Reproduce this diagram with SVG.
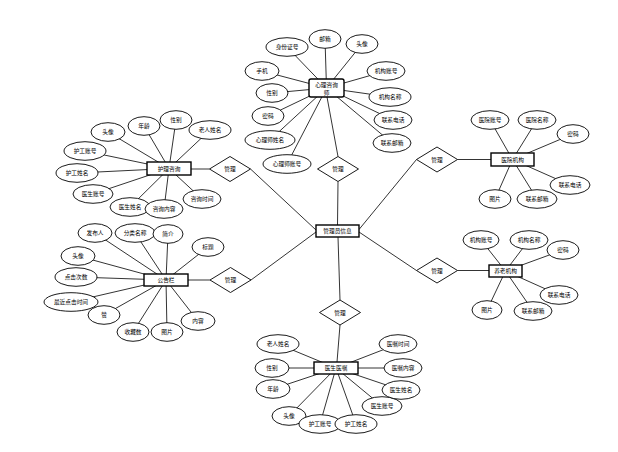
<svg xmlns="http://www.w3.org/2000/svg" width="618" height="452" viewBox="0 0 618 452">
<style>
text{font-family:"Liberation Sans","Noto Sans CJK SC",sans-serif;font-size:5.7px;text-anchor:middle;dominant-baseline:central;fill:#000}
.a ellipse{fill:#fff;stroke:#000;stroke-width:0.9}
.e rect{fill:#fff;stroke:#000;stroke-width:1.4}
.r polygon{fill:#fff;stroke:#000;stroke-width:0.9}
#connectors line{stroke:#000;stroke-width:0.8}
</style>
<rect width="618" height="452" fill="#fff"/>
<g id="connectors">
<line x1="316" y1="230" x2="250.5" y2="169"/>
<line x1="316" y1="232" x2="251" y2="280"/>
<line x1="337.5" y1="225" x2="338" y2="181.5"/>
<line x1="359" y1="229.5" x2="416.5" y2="159.5"/>
<line x1="359" y1="232" x2="416.5" y2="270.5"/>
<line x1="338" y1="237" x2="340" y2="300"/>
<line x1="191" y1="169" x2="209.5" y2="169"/>
<line x1="188" y1="280" x2="210" y2="280"/>
<line x1="327" y1="97" x2="338" y2="156.5"/>
<line x1="457.5" y1="159.5" x2="491" y2="159.5"/>
<line x1="457.5" y1="270.5" x2="489" y2="270.5"/>
<line x1="340" y1="325" x2="337" y2="362"/>
<!-- E3 -->
<line x1="326.5" y1="88" x2="287" y2="47"/><line x1="326.5" y1="88" x2="325" y2="39"/><line x1="326.5" y1="88" x2="362" y2="44"/><line x1="326.5" y1="88" x2="262" y2="71"/><line x1="326.5" y1="88" x2="386" y2="71"/><line x1="326.5" y1="88" x2="272" y2="93"/><line x1="326.5" y1="88" x2="390" y2="97"/><line x1="326.5" y1="88" x2="268" y2="116"/><line x1="326.5" y1="88" x2="393" y2="120"/><line x1="326.5" y1="88" x2="270" y2="140"/><line x1="326.5" y1="88" x2="392" y2="143"/><line x1="326.5" y1="88" x2="287" y2="164"/>
<!-- E1 -->
<line x1="169" y1="168.5" x2="108" y2="132"/><line x1="169" y1="168.5" x2="144" y2="126"/><line x1="169" y1="168.5" x2="176" y2="120"/><line x1="169" y1="168.5" x2="210" y2="130"/><line x1="169" y1="168.5" x2="85" y2="151"/><line x1="169" y1="168.5" x2="77" y2="173"/><line x1="169" y1="168.5" x2="93" y2="194"/><line x1="169" y1="168.5" x2="130" y2="207"/><line x1="169" y1="168.5" x2="164" y2="209"/><line x1="169" y1="168.5" x2="202" y2="199"/>
<!-- E2 -->
<line x1="166" y1="280" x2="95" y2="233"/><line x1="166" y1="280" x2="135" y2="233"/><line x1="166" y1="280" x2="168" y2="234"/><line x1="166" y1="280" x2="208" y2="247"/><line x1="166" y1="280" x2="78" y2="256"/><line x1="166" y1="280" x2="76" y2="277"/><line x1="166" y1="280" x2="71" y2="302"/><line x1="166" y1="280" x2="104" y2="315"/><line x1="166" y1="280" x2="133" y2="332"/><line x1="166" y1="280" x2="167" y2="332"/><line x1="166" y1="280" x2="198" y2="321"/>
<!-- E4 -->
<line x1="512.5" y1="159.5" x2="490" y2="120"/><line x1="512.5" y1="159.5" x2="537" y2="120"/><line x1="512.5" y1="159.5" x2="573" y2="134"/><line x1="512.5" y1="159.5" x2="570" y2="185"/><line x1="512.5" y1="159.5" x2="537" y2="199"/><line x1="512.5" y1="159.5" x2="495" y2="199"/>
<!-- E5 -->
<line x1="505.5" y1="271" x2="481" y2="240"/><line x1="505.5" y1="271" x2="529" y2="240"/><line x1="505.5" y1="271" x2="563" y2="250"/><line x1="505.5" y1="271" x2="559" y2="295"/><line x1="505.5" y1="271" x2="533" y2="311"/><line x1="505.5" y1="271" x2="487" y2="310"/>
<!-- E6 -->
<line x1="336" y1="368" x2="278" y2="344"/><line x1="336" y1="368" x2="272" y2="368"/><line x1="336" y1="368" x2="273" y2="389"/><line x1="336" y1="368" x2="289" y2="416"/><line x1="336" y1="368" x2="320" y2="424"/><line x1="336" y1="368" x2="356" y2="424"/><line x1="336" y1="368" x2="382" y2="406"/><line x1="336" y1="368" x2="401" y2="390"/><line x1="336" y1="368" x2="403" y2="368"/><line x1="336" y1="368" x2="398" y2="344"/>
</g>
<g id="d1" class="r"><polygon points="209.5,169 230,156.5 250.5,169 230,181.5"/><text x="230" y="169">管理</text></g>
<g id="d2" class="r"><polygon points="210,280 230.5,267.5 251,280 230.5,292.5"/><text x="230.5" y="280">管理</text></g>
<g id="d3" class="r"><polygon points="317.5,169 338,156.5 358.5,169 338,181.5"/><text x="338" y="169">管理</text></g>
<g id="d4" class="r"><polygon points="416.5,159.5 437,147 457.5,159.5 437,172"/><text x="437" y="159.5">管理</text></g>
<g id="d5" class="r"><polygon points="416.5,270.5 437,258 457.5,270.5 437,283"/><text x="437" y="270.5">管理</text></g>
<g id="d6" class="r"><polygon points="319.5,312.5 340,300 360.5,312.5 340,325"/><text x="340" y="312.5">管理</text></g>
<g id="admin" class="e"><rect x="316" y="225" width="43" height="12"/><text x="337.5" y="231">管理员信息</text></g>
<g id="nurse" class="e"><rect x="147" y="162" width="44" height="13"/><text x="169" y="168.5">护理咨询</text></g>
<g id="notice" class="e"><rect x="144" y="274" width="44" height="12"/><text x="166" y="280">公告栏</text></g>
<g id="psych" class="e"><rect x="309" y="79" width="35" height="18" rx="2"/><text x="326.5" y="84.5">心理咨询</text><text x="326.5" y="92.5">师</text></g>
<g id="hospital" class="e"><rect x="491" y="153" width="43" height="13"/><text x="512.5" y="159.5">医院机构</text></g>
<g id="elder" class="e"><rect x="489" y="265" width="33" height="12"/><text x="505.5" y="271">养老机构</text></g>
<g id="advice" class="e"><rect x="314" y="362" width="44" height="12"/><text x="336" y="368">医生医嘱</text></g>
<g id="psych-attrs" class="a">
<g id="p1"><ellipse cx="287" cy="47" rx="21" ry="9.3"/><text x="287" y="47">身份证号</text></g>
<g id="p2"><ellipse cx="325" cy="39" rx="16" ry="9.3"/><text x="325" y="39">邮箱</text></g>
<g id="p3"><ellipse cx="362" cy="44" rx="16" ry="9.3"/><text x="362" y="44">头像</text></g>
<g id="p4"><ellipse cx="262" cy="71" rx="17" ry="9.3"/><text x="262" y="71">手机</text></g>
<g id="p5"><ellipse cx="386" cy="71" rx="19" ry="9.3"/><text x="386" y="71">机构账号</text></g>
<g id="p6"><ellipse cx="272" cy="93" rx="16" ry="9.3"/><text x="272" y="93">性别</text></g>
<g id="p7"><ellipse cx="390" cy="97" rx="21" ry="9.3"/><text x="390" y="97">机构名称</text></g>
<g id="p8"><ellipse cx="268" cy="116" rx="16" ry="9.3"/><text x="268" y="116">密码</text></g>
<g id="p9"><ellipse cx="393" cy="120" rx="19" ry="9.3"/><text x="393" y="120">联系电话</text></g>
<g id="p10"><ellipse cx="270" cy="140" rx="25" ry="9.3"/><text x="270" y="140">心理师姓名</text></g>
<g id="p11"><ellipse cx="392" cy="143" rx="19" ry="9.3"/><text x="392" y="143">联系邮箱</text></g>
<g id="p12"><ellipse cx="287" cy="164" rx="24" ry="9.3"/><text x="287" y="164">心理师账号</text></g>
</g>
<g id="nurse-attrs" class="a">
<g id="n1"><ellipse cx="108" cy="132" rx="17" ry="9.3"/><text x="108" y="132">头像</text></g>
<g id="n2"><ellipse cx="144" cy="126" rx="16" ry="9.3"/><text x="144" y="126">年龄</text></g>
<g id="n3"><ellipse cx="176" cy="120" rx="16" ry="9.3"/><text x="176" y="120">性别</text></g>
<g id="n4"><ellipse cx="210" cy="130" rx="21" ry="9.3"/><text x="210" y="130">老人姓名</text></g>
<g id="n5"><ellipse cx="85" cy="151" rx="21" ry="9.3"/><text x="85" y="151">护工账号</text></g>
<g id="n6"><ellipse cx="77" cy="173" rx="21" ry="9.3"/><text x="77" y="173">护工姓名</text></g>
<g id="n7"><ellipse cx="93" cy="194" rx="20" ry="9.3"/><text x="93" y="194">医生账号</text></g>
<g id="n8"><ellipse cx="130" cy="207" rx="20" ry="9.3"/><text x="130" y="207">医生姓名</text></g>
<g id="n9"><ellipse cx="164" cy="209" rx="19" ry="9.3"/><text x="164" y="209">咨询内容</text></g>
<g id="n10"><ellipse cx="202" cy="199" rx="19" ry="9.3"/><text x="202" y="199">咨询时间</text></g>
</g>
<g id="notice-attrs" class="a">
<g id="t1"><ellipse cx="95" cy="233" rx="17" ry="9.3"/><text x="95" y="233">发布人</text></g>
<g id="t2"><ellipse cx="135" cy="233" rx="20" ry="9.3"/><text x="135" y="233">分类名称</text></g>
<g id="t3"><ellipse cx="168" cy="234" rx="15" ry="9.3"/><text x="168" y="234">简介</text></g>
<g id="t4"><ellipse cx="208" cy="247" rx="16" ry="9.3"/><text x="208" y="247">标题</text></g>
<g id="t5"><ellipse cx="78" cy="256" rx="17" ry="9.3"/><text x="78" y="256">头像</text></g>
<g id="t6"><ellipse cx="76" cy="277" rx="21" ry="9.3"/><text x="76" y="277">点击次数</text></g>
<g id="t7"><ellipse cx="71" cy="302" rx="27" ry="9.3"/><text x="71" y="302">最近点击时间</text></g>
<g id="t8"><ellipse cx="104" cy="315" rx="16" ry="9.3"/><text x="104" y="315">赞</text></g>
<g id="t9"><ellipse cx="133" cy="332" rx="16" ry="9.3"/><text x="133" y="332">收藏数</text></g>
<g id="t10"><ellipse cx="167" cy="332" rx="16" ry="9.3"/><text x="167" y="332">图片</text></g>
<g id="t11"><ellipse cx="198" cy="321" rx="17" ry="9.3"/><text x="198" y="321">内容</text></g>
</g>
<g id="hospital-attrs" class="a">
<g id="h1"><ellipse cx="490" cy="120" rx="19" ry="9.3"/><text x="490" y="120">医院账号</text></g>
<g id="h2"><ellipse cx="537" cy="120" rx="19" ry="9.3"/><text x="537" y="120">医院名称</text></g>
<g id="h3"><ellipse cx="573" cy="134" rx="16" ry="9.3"/><text x="573" y="134">密码</text></g>
<g id="h4"><ellipse cx="570" cy="185" rx="20" ry="9.3"/><text x="570" y="185">联系电话</text></g>
<g id="h5"><ellipse cx="537" cy="199" rx="20" ry="9.3"/><text x="537" y="199">联系邮箱</text></g>
<g id="h6"><ellipse cx="495" cy="199" rx="16" ry="9.3"/><text x="495" y="199">图片</text></g>
</g>
<g id="elder-attrs" class="a">
<g id="o1"><ellipse cx="481" cy="240" rx="18" ry="9.3"/><text x="481" y="240">机构账号</text></g>
<g id="o2"><ellipse cx="529" cy="240" rx="19" ry="9.3"/><text x="529" y="240">机构名称</text></g>
<g id="o3"><ellipse cx="563" cy="250" rx="16" ry="9.3"/><text x="563" y="250">密码</text></g>
<g id="o4"><ellipse cx="559" cy="295" rx="19" ry="9.3"/><text x="559" y="295">联系电话</text></g>
<g id="o5"><ellipse cx="533" cy="311" rx="19" ry="9.3"/><text x="533" y="311">联系邮箱</text></g>
<g id="o6"><ellipse cx="487" cy="310" rx="15" ry="9.3"/><text x="487" y="310">图片</text></g>
</g>
<g id="advice-attrs" class="a">
<g id="m1"><ellipse cx="278" cy="344" rx="21" ry="9.3"/><text x="278" y="344">老人姓名</text></g>
<g id="m2"><ellipse cx="272" cy="368" rx="17" ry="9.3"/><text x="272" y="368">性别</text></g>
<g id="m3"><ellipse cx="273" cy="389" rx="17" ry="9.3"/><text x="273" y="389">年龄</text></g>
<g id="m4"><ellipse cx="289" cy="416" rx="17" ry="9.3"/><text x="289" y="416">头像</text></g>
<g id="m5"><ellipse cx="320" cy="424" rx="21" ry="9.3"/><text x="320" y="424">护工账号</text></g>
<g id="m6"><ellipse cx="356" cy="424" rx="21" ry="9.3"/><text x="356" y="424">护工姓名</text></g>
<g id="m7"><ellipse cx="382" cy="406" rx="20" ry="9.3"/><text x="382" y="406">医生账号</text></g>
<g id="m8"><ellipse cx="401" cy="390" rx="19" ry="9.3"/><text x="401" y="390">医生姓名</text></g>
<g id="m9"><ellipse cx="403" cy="368" rx="19" ry="9.3"/><text x="403" y="368">医嘱内容</text></g>
<g id="m10"><ellipse cx="398" cy="344" rx="19" ry="9.3"/><text x="398" y="344">医嘱时间</text></g>
</g>
</svg>
